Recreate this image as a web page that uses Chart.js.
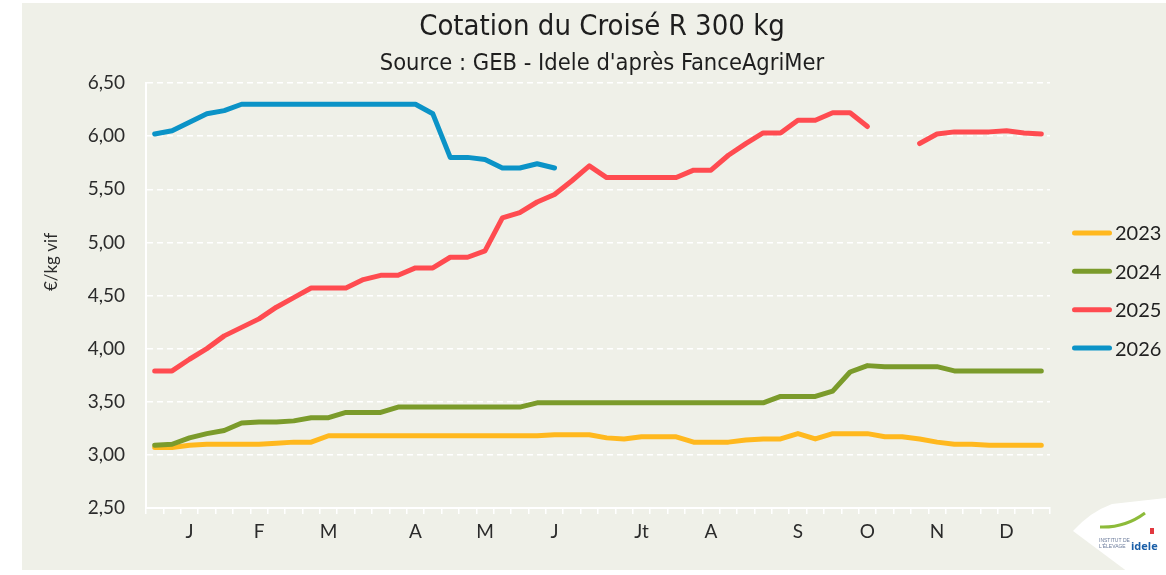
<!DOCTYPE html>
<html>
<head>
<meta charset="utf-8">
<script src="https://cdn.jsdelivr.net/npm/chart.js@4/dist/chart.umd.min.js"></script>
<style>
  html, body { margin: 0; padding: 0; background: #ffffff; }
  #wrap { width: 1166px; height: 575px; position: relative; }
</style>
</head>
<body>
<div id="wrap"><canvas id="c"></canvas></div>
<script>
// ---- Data ----
const weekLabels = [
  '', '', 'J', '', '', '', 'F', '', '', '', 'M', '', '', '', '', 'A', '', '', '', 'M',
  '', '', '', 'J', '', '', '', '', 'Jt', '', '', '', 'A', '', '', '', '', 'S', '', '',
  '', 'O', '', '', '', 'N', '', '', '', 'D', '', ''
];
const seriesNames = ['2023', '2024', '2025', '2026'];
const y2023 = [3.07, 3.07, 3.09, 3.10, 3.10, 3.10, 3.10, 3.11, 3.12, 3.12, 3.18, 3.18, 3.18, 3.18, 3.18, 3.18, 3.18, 3.18, 3.18, 3.18,
  3.18, 3.18, 3.18, 3.19, 3.19, 3.19, 3.16, 3.15, 3.17, 3.17, 3.17, 3.12, 3.12, 3.12, 3.14, 3.15, 3.15, 3.20, 3.15, 3.20,
  3.20, 3.20, 3.17, 3.17, 3.15, 3.12, 3.10, 3.10, 3.09, 3.09, 3.09, 3.09];
const y2024 = [3.09, 3.10, 3.16, 3.20, 3.23, 3.30, 3.31, 3.31, 3.32, 3.35, 3.35, 3.40, 3.40, 3.40, 3.45, 3.45, 3.45, 3.45, 3.45, 3.45,
  3.45, 3.45, 3.49, 3.49, 3.49, 3.49, 3.49, 3.49, 3.49, 3.49, 3.49, 3.49, 3.49, 3.49, 3.49, 3.49, 3.55, 3.55, 3.55, 3.60,
  3.78, 3.84, 3.83, 3.83, 3.83, 3.83, 3.79, 3.79, 3.79, 3.79, 3.79, 3.79];
const y2025 = [3.79, 3.79, 3.90, 4.00, 4.12, 4.20, 4.28, 4.39, 4.48, 4.57, 4.57, 4.57, 4.65, 4.69, 4.69, 4.76, 4.76, 4.86, 4.86, 4.92,
  5.23, 5.28, 5.38, 5.45, 5.58, 5.72, 5.61, 5.61, 5.61, 5.61, 5.61, 5.68, 5.68, 5.82, 5.93, 6.03, 6.03, 6.15, 6.15, 6.22,
  6.22, 6.09, null, null, 5.93, 6.02, 6.04, 6.04, 6.04, 6.05, 6.03, 6.02];
const y2026 = [6.02, 6.05, 6.13, 6.21, 6.24, 6.30, 6.30, 6.30, 6.30, 6.30, 6.30, 6.30, 6.30, 6.30, 6.30, 6.30, 6.21, 5.80, 5.80, 5.78,
  5.70, 5.70, 5.74, 5.70, null, null, null, null, null, null, null, null, null, null, null, null, null, null, null, null,
  null, null, null, null, null, null, null, null, null, null, null, null];
const seriesColors = ['#FFB81E', '#7B9B2B', '#FF4B50', '#0B93C7'];
const yTicksMin = 2.5, yTicksMax = 6.5, yStep = 0.5;
const titleText = 'Cotation du Croisé R 300 kg';
const subtitleText = "Source : GEB - Idele d'après FanceAgriMer";
const yAxisTitle = '€/kg vif';

const allSeries = [y2023, y2024, y2025, y2026];
const PANEL = '#EFF0E8';
const TXT = '#2b2b2b';
const tickFont = { family: 'Lato, "Noto Sans", sans-serif', size: 19 };

const datasets = allSeries.map((vals, i) => ({
  label: seriesNames[i],
  data: vals,
  borderColor: seriesColors[i],
  backgroundColor: seriesColors[i],
  borderWidth: 5,
  borderCapStyle: 'round',
  borderJoinStyle: 'round',
  pointRadius: 0,
  pointHoverRadius: 0,
  tension: 0,
  spanGaps: false,
  fill: false,
  order: allSeries.length - i
}));

const panelPlugin = {
  id: 'panel',
  afterLayout(chart) {
    // centre the title block on the whole panel (22..1182 in the source)
    chart.boxes.forEach(b => {
      if (b.position === 'top' && b.options && b.options.text !== undefined) {
        b.left = 38; b.right = 1166; b.width = 1128;
      }
    });
  },
  beforeDraw(chart) {
    const ctx = chart.ctx;
    ctx.save();
    ctx.fillStyle = '#ffffff';
    ctx.fillRect(0, 0, chart.width, chart.height);
    ctx.fillStyle = PANEL;
    ctx.fillRect(22, 3, chart.width - 22, 567);
    ctx.restore();
  }
};

const extrasPlugin = {
  id: 'extras',
  afterDraw(chart) {
    const ctx = chart.ctx;
    ctx.save();
    // y axis title
    ctx.translate(52, 262);
    ctx.rotate(-Math.PI / 2);
    ctx.fillStyle = TXT;
    ctx.font = '17px Lato, "Noto Sans", sans-serif';
    ctx.textAlign = 'center';
    ctx.textBaseline = 'middle';
    ctx.fillText(yAxisTitle, 0, 0);
    ctx.restore();

    // legend (from datasets)
    ctx.save();
    const ds = chart.data.datasets;
    const cy = 290.5;
    const gap = 38.4;
    ds.forEach((d, i) => {
      const y = cy + (i - (ds.length - 1) / 2) * gap;
      ctx.strokeStyle = d.borderColor;
      ctx.lineWidth = 5;
      ctx.lineCap = 'round';
      ctx.beginPath();
      ctx.moveTo(1074.5, y);
      ctx.lineTo(1109.5, y);
      ctx.stroke();
      ctx.fillStyle = '#222';
      ctx.font = '20px Lato, "Noto Sans", sans-serif';
      ctx.textAlign = 'left';
      ctx.textBaseline = 'middle';
      ctx.fillText(d.label, 1115, y + 1);
    });
    ctx.restore();

    // logo blob
    ctx.save();
    ctx.fillStyle = '#ffffff';
    ctx.beginPath();
    ctx.moveTo(1073, 531);
    ctx.quadraticCurveTo(1090, 512, 1112, 504);
    ctx.lineTo(1166, 498);
    ctx.lineTo(1166, 575);
    ctx.lineTo(1132, 575);
    ctx.closePath();
    ctx.fill();
    ctx.strokeStyle = '#8dbb3a';
    ctx.lineWidth = 3;
    ctx.beginPath();
    ctx.moveTo(1100, 527);
    ctx.quadraticCurveTo(1125, 528, 1145, 513);
    ctx.stroke();
    ctx.fillStyle = '#1a5fa8';
    ctx.font = 'bold 11px "Open Sans", sans-serif';
    ctx.fillText('idele', 1131, 550);
    ctx.fillStyle = '#6a7a9a';
    ctx.font = '5px sans-serif';
    ctx.fillText('INSTITUT DE', 1099, 542);
    ctx.fillText("L'ÉLEVAGE", 1099, 548);
    ctx.fillStyle = '#e2383f';
    ctx.fillRect(1150, 528, 4, 6);
    ctx.restore();
  }
};

new Chart(document.getElementById('c'), {
  type: 'line',
  data: { labels: weekLabels, datasets },
  options: {
    responsive: true,
    maintainAspectRatio: false,
    animation: false,
    events: [],
    layout: { padding: { left: 0, right: 116, top: 0, bottom: 0 } },
    plugins: {
      legend: { display: false },
      tooltip: { enabled: false },
      title: {
        display: true,
        text: titleText,
        color: '#1e1e1e',
        font: { family: '"Liberation Sans Narrow", "DejaVu Sans Condensed", sans-serif', size: 29, weight: 'normal' },
        padding: { top: 10, bottom: 3 }
      },
      subtitle: {
        display: true,
        text: subtitleText,
        color: '#1e1e1e',
        font: { family: '"Liberation Sans Narrow", "DejaVu Sans Condensed", sans-serif', size: 23.5, weight: 'normal' },
        padding: { top: 2, bottom: 5 }
      }
    },
    scales: {
      x: {
        type: 'category',
        offset: true,
        afterFit(scale) { scale.height = 67; },
        grid: { display: true, offset: true, drawOnChartArea: false, drawTicks: true, tickLength: 6, color: '#ffffff', lineWidth: 1.5 },
        border: { display: true, color: '#ffffff', width: 2 },
        ticks: { autoSkip: false, maxRotation: 0, minRotation: 0, color: TXT, font: tickFont, padding: 6 }
      },
      y: {
        min: yTicksMin,
        max: yTicksMax,
        afterFit(scale) { scale.width = 146; },
        ticks: {
          stepSize: yStep,
          color: TXT,
          font: tickFont,
          padding: 21,
          callback: (v) => Number(v).toFixed(2).replace('.', ',')
        },
        grid: { color: '#ffffff', lineWidth: 1.5, drawTicks: false },
        border: { display: true, color: '#ffffff', width: 2, dash: [6, 4] }
      }
    }
  },
  plugins: [panelPlugin, extrasPlugin]
});
</script>
</body>
</html>
